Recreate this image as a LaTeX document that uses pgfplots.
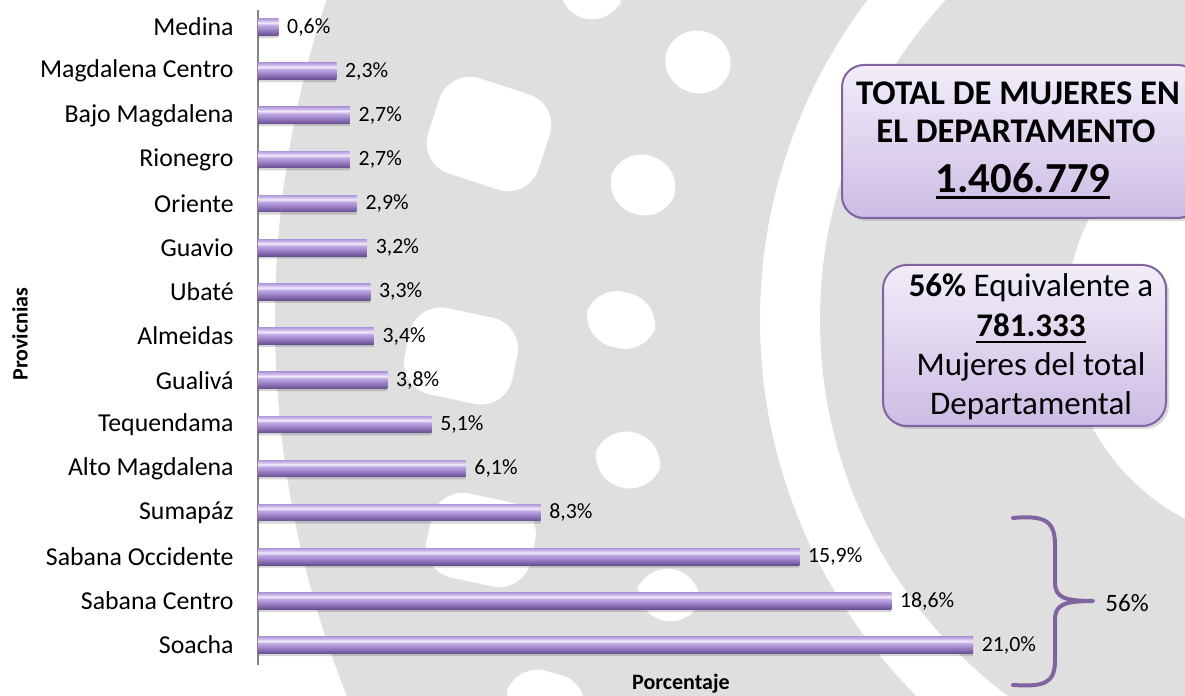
\documentclass[border=0pt]{standalone}
\usepackage{fontspec}
\setmainfont{Carlito}
\usepackage{pgfplots}
\usepackage{pgfplotstable}
\pgfplotsset{compat=1.18}
\usetikzlibrary{shadows}

\definecolor{bggray}{RGB}{223,223,223}
\definecolor{purpborder}{RGB}{128,100,162}
\definecolor{axisgray}{RGB}{134,134,134}
\definecolor{boxtop}{RGB}{242,237,249}
\definecolor{boxbot}{RGB}{204,188,228}
\definecolor{barA}{RGB}{100,78,140}
\definecolor{barB}{RGB}{128,100,170}
\definecolor{barC}{RGB}{166,138,207}
\definecolor{barD}{RGB}{190,168,225}
\definecolor{barE}{RGB}{243,235,252}
\definecolor{barF}{RGB}{205,186,234}
\definecolor{barG}{RGB}{178,156,219}

\pgfdeclareverticalshading{barshade}{100bp}{color(0bp)=(barA); color(25bp)=(barA); color(32.5bp)=(barB); color(45bp)=(barC); color(55bp)=(barD); color(62.5bp)=(barE); color(69bp)=(barF); color(75bp)=(barG); color(100bp)=(barG)}

\newcommand\ul[2][1.4pt]{\setbox0\hbox{#2}\rlap{\rule[-3pt]{\wd0}{#1}}\box0}

\pgfplotstableread{
y val
0 21.0
1 18.6
2 15.9
3 8.3
4 6.1
5 5.1
6 3.8
7 3.4
8 3.3
9 3.2
10 2.9
11 2.7
12 2.7
13 2.3
14 0.6
}\datatable

\begin{document}
\begin{tikzpicture}
\path[use as bounding box, clip] (0,0) rectangle (592.5pt,348pt);
% background watermark
\begin{scope}[shift={(0pt,348pt)}, x=0.5pt, y=-0.5pt]
  \fill[bggray, even odd rule]
    (1290,320) circle[radius=507.5pt]
    (1290,320) circle[radius=265pt]
    (1290,320) circle[radius=235pt]
    (1290,320) circle[radius=112.5pt];
  \tikzset{hole/.style={fill=white, draw=none, rounded corners=16pt, inner sep=0pt}}
  \node[hole, minimum width=58pt, minimum height=50pt, rotate=-18] at (489,134) {};
  \node[hole, minimum width=33pt, minimum height=31pt, rotate=-20] at (698,62) {};
  \node[hole, minimum width=33pt, minimum height=30pt, rotate=-20] at (643,185) {};
  \node[hole, minimum width=35pt, minimum height=28pt, rotate=-15] at (621,320) {};
  \node[hole, minimum width=55pt, minimum height=44pt, rotate=-12] at (461,356) {};
  \node[hole, minimum width=32pt, minimum height=24pt, rotate=-15] at (590,-5) {};
  \node[hole, minimum width=33pt, minimum height=28pt, rotate=-15] at (628,460) {};
  \node[hole, minimum width=53pt, minimum height=43pt, rotate=-12] at (481,540) {};
  \node[hole, minimum width=32pt, minimum height=26pt, rotate=-15] at (669,595) {};
  \node[hole, minimum width=40pt, minimum height=28pt, rotate=-15] at (546,700) {};
\end{scope}

\begin{axis}[
  at={(129pt,15.5pt)}, anchor=south west,
  scale only axis, width=425.6pt, height=327.5pt,
  xmin=0, xmax=25, ymin=-0.45, ymax=14.385,
  axis x line=none,
  axis y line*=left,
  y axis line style={draw=axisgray, line width=0.6pt},
  xtick=\empty,
  ytick={0,...,14},
  yticklabels={Soacha,Sabana Centro,Sabana Occidente,Sumapáz,Alto Magdalena,Tequendama,Gualivá,Almeidas,Ubaté,Guavio,Oriente,Rionegro,Bajo Magdalena,Magdalena Centro,Medina},
  ytick style={draw=none},
  yticklabel style={font=\fontsize{12.9}{15}\selectfont, inner sep=0pt, xshift=-12pt},
  clip=false,
]
\addplot[xbar, bar width=8.3pt, bar shift=-1.3pt, draw=none, fill=black, fill opacity=0.16, forget plot]
  table[x=val, y=y] {\datatable};
\pgfplotsinvokeforeach{-0.2:0.2, 0.8:1.2, 1.8:2.2, 2.8:3.2, 3.8:4.2, 4.8:5.2, 5.8:6.2, 6.8:7.2, 7.8:8.2, 8.8:9.2, 9.8:10.2, 10.8:11.2, 11.8:12.2, 12.8:13.2, 13.8:14.2}{
\addplot[xbar, bar width=8.3pt, draw=none, shading=barshade, shade,
  restrict y to domain=#1,
  point meta=x,
  nodes near coords={\pgfmathprintnumber[fixed, fixed zerofill, precision=1, use comma, assume math mode=true]{\pgfplotspointmeta}\%},
  every node near coord/.append style={font=\fontsize{10.9}{13}\selectfont, inner sep=0pt, xshift=4.2pt, anchor=west, text=black},
]
  table[x=val, y=y] {\datatable};
}
\end{axis}

\begin{scope}[shift={(0pt,348pt)}, x=0.5pt, y=-0.5pt]
  % axis titles
  \node[rotate=90, font=\fontsize{11}{13}\selectfont\bfseries] at (20,334) {Provicnias};
  \node[font=\fontsize{11}{13}\selectfont\bfseries] at (681,684) {Porcentaje};
  % box 1
  \draw[purpborder, line width=1pt, rounded corners=11pt, top color=boxtop, bottom color=boxbot,
        drop shadow={opacity=0.3, shadow xshift=1.5pt, shadow yshift=-1.5pt}]
        (842,65) rectangle (1200,218);
  \node[anchor=base, font=\fontsize{17.3}{20}\selectfont\bfseries] at (1018,105) {TOTAL DE MUJERES EN};
  \node[anchor=base, font=\fontsize{17.3}{20}\selectfont\bfseries] at (1016,143) {EL DEPARTAMENTO};
  \node[anchor=base, font=\fontsize{21.4}{24}\selectfont\bfseries] at (1023,193) {\ul[1.5pt]{1.406.779}};
  % box 2
  \draw[purpborder, line width=1pt, rounded corners=12pt, top color=boxtop, bottom color=boxbot,
        drop shadow={opacity=0.3, shadow xshift=1.5pt, shadow yshift=-1.5pt}]
        (883,265) rectangle (1166,426);
  \node[anchor=base, font=\fontsize{16.5}{19}\selectfont] at (1031,297) {\textbf{56\%} Equivalente a};
  \node[anchor=base, font=\fontsize{16.5}{19}\selectfont\bfseries] at (1031,337) {\ul[1.2pt]{781.333}};
  \node[anchor=base, font=\fontsize{16.5}{19}\selectfont] at (1031,376) {Mujeres del total};
  \node[anchor=base, font=\fontsize{16.5}{19}\selectfont] at (1031,415) {Departamental};
  % brace
  \draw[purpborder, line width=2pt, line cap=round, line join=round]
    (1013,518) .. controls (1045,515) and (1055,521) .. (1055,545) -- (1055,582)
    .. controls (1055,597) and (1063,601) .. (1093,601)
    .. controls (1063,601) and (1055,605) .. (1055,620) -- (1055,660)
    .. controls (1055,683) and (1045,687) .. (1013,685);
  \node[anchor=west, inner sep=0pt, font=\fontsize{12.5}{15}\selectfont] at (1105,603) {56\%};
\end{scope}
\end{tikzpicture}
\end{document}
